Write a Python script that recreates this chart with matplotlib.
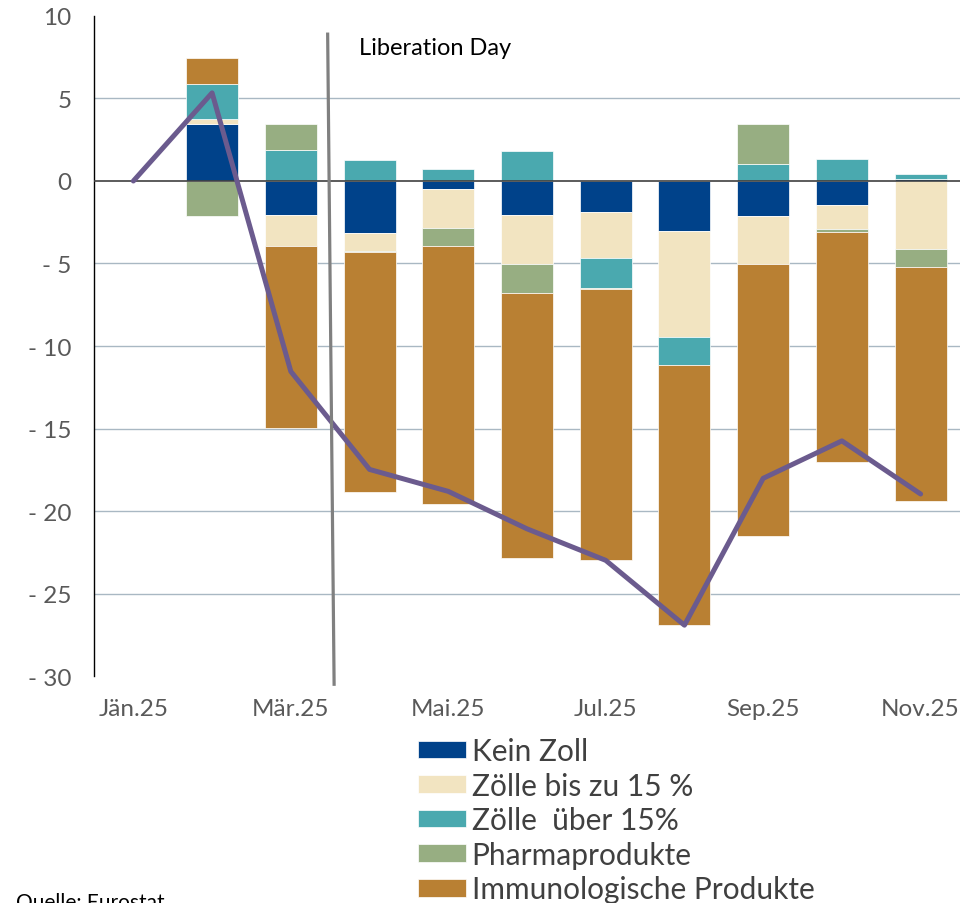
import numpy as np
import matplotlib
matplotlib.use("Agg")
import matplotlib.pyplot as plt

plt.rcParams['font.family'] = ['Lato', 'DejaVu Sans']

monate = ["Jän.25", "Feb.25", "Mär.25", "Apr.25", "Mai.25", "Jun.25",
          "Jul.25", "Aug.25", "Sep.25", "Okt.25", "Nov.25"]

kein_zoll = [0, 3.43, -2.04, -3.15, -0.48, -2.08, -1.88, -3.06, -2.15, -1.48, 0.12]
zoelle_bis_15 = [0, 0.33, -1.92, -1.11, -2.34, -2.97, -2.79, -6.38, -2.89, -1.42, -4.10]
zoelle_ueber_15 = [0, 2.12, 1.90, 1.29, 0.75, 1.79, -1.79, -1.73, 1.02, 1.31, 0.33]
pharma = [0, -2.10, 1.53, -0.05, -1.10, -1.72, -0.10, 0, 2.46, -0.18, -1.11]
immuno = [0, 1.56, -11.01, -14.51, -15.64, -16.10, -16.43, -15.75, -16.46, -13.98, -14.21]
gesamt = [0, 5.34, -11.54, -17.48, -18.81, -21.08, -22.99, -26.92, -18.02, -15.75, -18.97]

serien = [
    ("Kein Zoll", kein_zoll, "#00428a"),
    ("Zölle bis zu 15 %", zoelle_bis_15, "#f2e4c1"),
    ("Zölle  über 15%", zoelle_ueber_15, "#4aa9af"),
    ("Pharmaprodukte", pharma, "#97ae82"),
    ("Immunologische Produkte", immuno, "#b98033"),
]

tick_farbe = "#595959"

fig = plt.figure(figsize=(9.69, 9.04), dpi=100)
ax = fig.add_axes([0.0970, 0.2511, 0.8937, 0.7301])

x = np.arange(len(monate))
pos_basis = np.zeros(len(monate))
neg_basis = np.zeros(len(monate))
handles = []
for name, werte, farbe in serien:
    w = np.array(werte, dtype=float)
    basis = np.where(w >= 0, pos_basis, neg_basis)
    b = ax.bar(x, w, width=0.66, bottom=basis, color=farbe, edgecolor="white",
               linewidth=0.5, zorder=2, label=name)
    handles.append(b)
    pos_basis += np.where(w > 0, w, 0)
    neg_basis += np.where(w < 0, w, 0)

ax.plot(x, gesamt, color="#6b5b8e", lw=3.6, solid_capstyle="round",
        solid_joinstyle="round", zorder=4)

ax.axhline(0, color="#404040", lw=1.2, zorder=3)
for g in [5, -5, -10, -15, -20, -25]:
    ax.axhline(g, color="#a9b8c3", lw=1.0, zorder=1)

# Liberation Day marker (slightly slanted in the original)
ax.plot([2.468, 2.55], [8.9, -30.5], color="#808080", lw=2.3, zorder=5, clip_on=False)
ax.text(2.86, 8.1, "Liberation Day", fontsize=17, color="black", va="center", ha="left")

ax.set_xlim(-0.5, 10.5)
ax.set_ylim(-30, 10)
ax.set_xticks(x[::2])
ax.set_xticklabels(monate[::2])
ytick = [10, 5, 0, -5, -10, -15, -20, -25, -30]
ax.set_yticks(ytick)
ax.set_yticklabels([str(v) if v >= 0 else "- " + str(-v) for v in ytick])
ax.tick_params(length=0, labelsize=17.5, colors=tick_farbe)
ax.tick_params(axis="y", pad=16)
ax.tick_params(axis="x", pad=16)

for s in ["top", "right", "bottom"]:
    ax.spines[s].set_visible(False)
ax.spines["left"].set_color("black")
ax.spines["left"].set_linewidth(1.0)

leg = fig.legend(handles=handles, loc="upper left",
                 bbox_to_anchor=(418 / 969, 1 - 738 / 904), frameon=False,
                 fontsize=21.5, handlelength=1.6, handleheight=0.53,
                 handletextpad=0.2, labelspacing=0.22, borderpad=0,
                 borderaxespad=0)
for t in leg.get_texts():
    t.set_color("#404040")

fig.text(16 / 969, 1 - 893 / 904, "Quelle: Eurostat", fontsize=15,
         color="black", va="top", ha="left")

fig.savefig("out.png", dpi=100)
